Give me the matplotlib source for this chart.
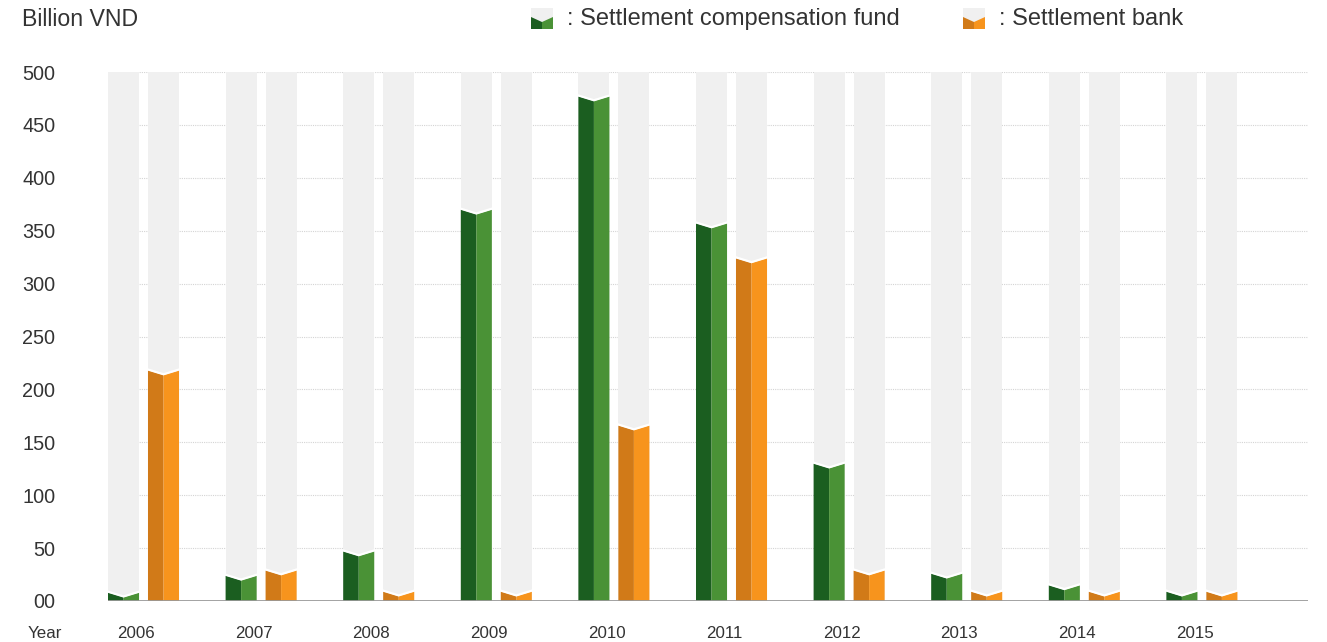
import matplotlib
matplotlib.use("Agg")
import matplotlib.pyplot as plt
from matplotlib.patches import Polygon

plt.rcParams['font.family'] = ['Liberation Sans', 'DejaVu Sans']

years = ["2006", "2007", "2008", "2009", "2010", "2011", "2012", "2013", "2014", "2015"]
fund = [8, 24, 47, 370, 477, 357, 130, 26, 15, 9]
bank = [218, 29, 9, 9, 166, 324, 29, 9, 9, 9]
yticks = [0, 50, 100, 150, 200, 250, 300, 350, 400, 450, 500]
ytick_labels = ["00", "50", "100", "150", "200", "250", "300", "350", "400", "450", "500"]

W, H = 1327, 642
GRAY = "#f0f0f0"
GREEN = ("#1b5e20", "#4a9236")
ORANGE = ("#d17a18", "#f7941d")
TXT = "#333333"

fig = plt.figure(figsize=(W / 100, H / 100), dpi=100)
ax = fig.add_axes([108 / W, (H - 601) / H, 1200 / W, 529 / H])
ax.set_xlim(0, 1200 / 117.6)
ax.set_ylim(0, 500)

bw = 0.264      # bar width
notch = 4.5     # depth of the V top, data units


def notched_bar(x0, val, cols):
    xm = x0 + bw / 2
    x1 = x0 + bw
    top = max(val, notch + 1)
    # background column
    ax.add_patch(Polygon([(x0, 0), (x1, 0), (x1, 500), (x0, 500)],
                         closed=True, fc=GRAY, ec="none", zorder=1))
    ax.add_patch(Polygon([(x0, 0), (xm, 0), (xm, top - notch), (x0, top)],
                         closed=True, fc=cols[0], ec="none", zorder=2))
    ax.add_patch(Polygon([(xm, 0), (x1, 0), (x1, top), (xm, top - notch)],
                         closed=True, fc=cols[1], ec="none", zorder=2))
    ax.plot([x0, xm, x1], [top + 0.8, top - notch + 0.8, top + 0.8],
            color="white", lw=1.6, zorder=3, solid_joinstyle="miter")


for i in range(len(years)):
    notched_bar(i, fund[i], GREEN)
    notched_bar(i + 0.34, bank[i], ORANGE)

for y in yticks[1:]:
    ax.axhline(y, color="#d4d4d4", lw=0.8, ls=(0, (1, 1)), zorder=0)
ax.axhline(0, color="#999999", lw=2, zorder=4)

for s in ax.spines.values():
    s.set_visible(False)
ax.set_yticks(yticks)
ax.set_yticklabels(ytick_labels, fontsize=14.3, color=TXT)
ax.tick_params(axis="y", length=0, pad=38)
for lab in ax.get_yticklabels():
    lab.set_horizontalalignment("right")
ax.set_xticks([i + 0.24 for i in range(len(years))])
ax.set_xticklabels(years, fontsize=12.2, color=TXT)
ax.tick_params(axis="x", length=0, pad=18)

fig.text(22 / W, 1 - 20 / H, "Billion VND", fontsize=16.7, color=TXT, va="center", ha="left")
fig.text(28 / W, 1 - 633 / H, "Year", fontsize=12.2, color=TXT, va="center", ha="left")


def legend_icon(px, cols):
    def f(x, y):
        return (x / W, 1 - y / H)
    w, t, b, d = 22, 8, 29, 5
    fig.add_artist(Polygon([f(px, t), f(px + w, t), f(px + w, b), f(px, b)],
                           closed=True, fc=GRAY, ec="none", transform=fig.transFigure))
    fig.add_artist(Polygon([f(px, 17), f(px + w / 2, 17 + d), f(px + w / 2, b), f(px, b)],
                           closed=True, fc=cols[0], ec="none", transform=fig.transFigure))
    fig.add_artist(Polygon([f(px + w / 2, 17 + d), f(px + w, 17), f(px + w, b), f(px + w / 2, b)],
                           closed=True, fc=cols[1], ec="none", transform=fig.transFigure))


legend_icon(531, GREEN)
fig.text(567 / W, 1 - 19 / H, ": Settlement compensation fund", fontsize=17, color=TXT, va="center")
legend_icon(963, ORANGE)
fig.text(999 / W, 1 - 19 / H, ": Settlement bank", fontsize=17, color=TXT, va="center")

fig.savefig("out.png", dpi=100)
